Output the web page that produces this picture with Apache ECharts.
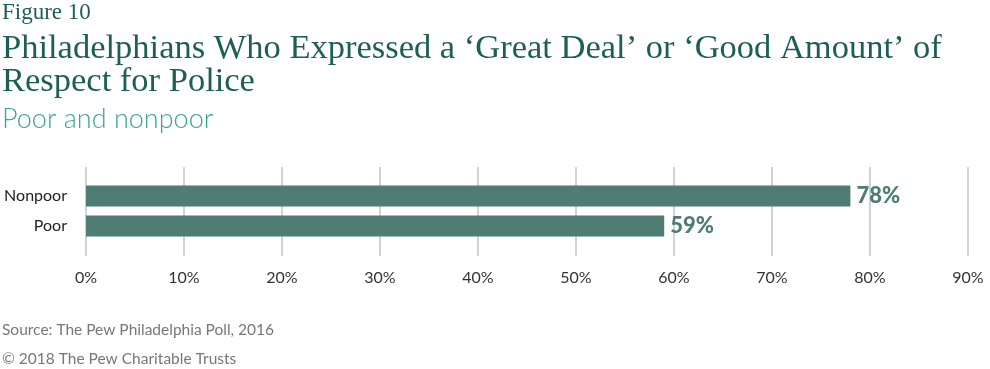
<!DOCTYPE html>
<html>
<head>
<meta charset="utf-8">
<script src="https://cdn.jsdelivr.net/npm/echarts@6/dist/echarts.min.js"></script>
<style>
html,body{margin:0;padding:0;background:#fff;}
#chart{width:990px;height:369px;}
</style>
</head>
<body>
<div id="chart"></div>
<script>
const categories = ['Nonpoor', 'Poor'];
const values = [78, 59];
const tickMin = 0, tickMax = 90, tickStep = 10;

const barColor = '#4f7c73';
const chart = echarts.init(document.getElementById('chart'), null, {renderer: 'canvas'});
const serif = '"Liberation Serif", serif';
const sans = 'Lato, "Open Sans", sans-serif';

chart.setOption({
  animation: false,
  title: [
    {text: 'Figure 10', left: 2, top: 1, padding: 0, textStyle: {fontFamily: serif, fontSize: 23, fontWeight: 'normal', color: '#1d5e56', lineHeight: 24}},
    {text: 'Philadelphians Who Expressed a \u2018Great Deal\u2019 or \u2018Good Amount\u2019 of\nRespect for Police', left: 2, top: 32, padding: 0, textStyle: {fontFamily: serif, fontSize: 34.5, fontWeight: 'normal', color: '#1d5e56', lineHeight: 33}},
    {text: 'Poor and nonpoor', left: 2, top: 103, padding: 0, textStyle: {fontFamily: sans, fontSize: 27, fontWeight: 300, color: '#3aa596', lineHeight: 32}},
    {text: 'Source: The Pew Philadelphia Poll, 2016', left: 2, top: 321, padding: 0, textStyle: {fontFamily: sans, fontSize: 15.5, fontWeight: 'normal', color: '#777', lineHeight: 18}},
    {text: '\u00A9 2018 The Pew Charitable Trusts', left: 2, top: 350, padding: 0, textStyle: {fontFamily: sans, fontSize: 15.5, fontWeight: 'normal', color: '#777', lineHeight: 18}}
  ],
  grid: [
    {left: 86, right: 22, top: 167, height: 89, containLabel: false},
    {left: 86, right: 22, top: 181, height: 60, containLabel: false}
  ],
  xAxis: [
    {gridIndex: 0, type: 'value', min: tickMin, max: tickMax, interval: tickStep,
     axisLine: {show: false}, axisTick: {show: false},
     splitLine: {show: true, lineStyle: {color: '#d2d2d2', width: 2}},
     axisLabel: {formatter: '{value}%', margin: 14, fontFamily: sans, fontSize: 16, color: '#333'}},
    {gridIndex: 1, type: 'value', min: tickMin, max: tickMax, interval: tickStep, show: false, splitLine: {show: false}}
  ],
  yAxis: [
    {gridIndex: 0, type: 'value', show: false},
    {gridIndex: 1, type: 'category', data: categories, inverse: true,
     axisLine: {show: false}, axisTick: {show: false},
     axisLabel: {margin: 19, fontFamily: sans, fontSize: 16, color: '#222'}}
  ],
  series: [{
    type: 'bar', xAxisIndex: 1, yAxisIndex: 1, data: values, barWidth: 21,
    itemStyle: {color: barColor},
    label: {show: true, position: 'right', distance: 6, formatter: '{c}%',
            fontFamily: sans, fontSize: 22, fontWeight: 900, color: barColor}
  }]
});
</script>
</body>
</html>
